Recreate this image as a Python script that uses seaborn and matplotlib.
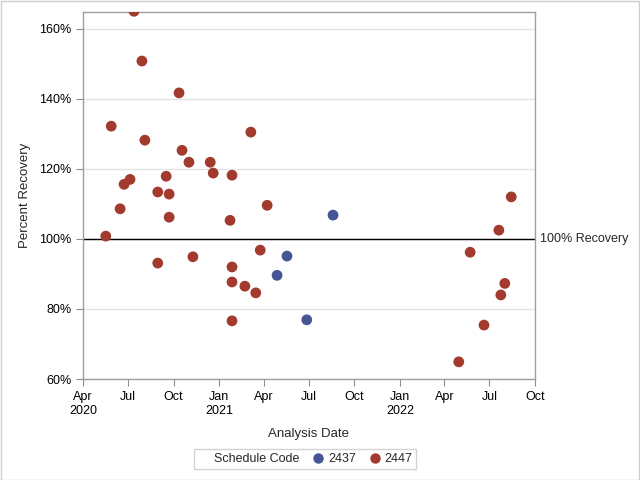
import pandas as pd
import seaborn as sns
import matplotlib.pyplot as plt
import matplotlib.dates as mdates
from matplotlib.lines import Line2D
from matplotlib.patches import Rectangle

# data
dates_2447 = ["2020-05-17", "2020-05-28", "2020-06-15", "2020-06-23", "2020-07-05",
              "2020-07-13", "2020-07-29", "2020-08-04", "2020-08-30", "2020-08-30",
              "2020-09-16", "2020-09-22", "2020-09-22", "2020-10-12", "2020-10-18",
              "2020-11-01", "2020-11-09", "2020-12-14", "2020-12-20", "2021-01-23",
              "2021-01-27", "2021-01-27", "2021-01-27", "2021-01-27", "2021-02-22",
              "2021-03-06", "2021-03-16", "2021-03-25", "2021-04-08", "2022-04-30",
              "2022-05-23", "2022-06-20", "2022-07-20", "2022-07-24", "2022-08-01",
              "2022-08-14"]
recovery_2447 = [100.8, 132.2, 108.6, 115.6, 117.0,
                 165.0, 150.8, 128.2, 113.4, 93.1,
                 117.9, 112.8, 106.2, 141.7, 125.3,
                 121.9, 94.9, 121.9, 118.8, 105.3,
                 118.2, 92.0, 87.7, 76.6, 86.5,
                 130.5, 84.6, 96.8, 109.6, 64.9,
                 96.2, 75.4, 102.5, 84.0, 87.3,
                 112.0]
dates_2437 = ["2021-04-28", "2021-05-18", "2021-06-27", "2021-08-19"]
recovery_2437 = [89.6, 95.1, 76.9, 106.8]

tick_dates = ["2020-04-01", "2020-07-01", "2020-10-01", "2021-01-01", "2021-04-01",
              "2021-07-01", "2021-10-01", "2022-01-01", "2022-04-01", "2022-07-01",
              "2022-10-01"]
tick_labels = ["Apr\n2020", "Jul", "Oct", "Jan\n2021", "Apr", "Jul", "Oct",
               "Jan\n2022", "Apr", "Jul", "Oct"]

df = pd.DataFrame({
    "date": pd.to_datetime(dates_2437 + dates_2447),
    "recovery": recovery_2437 + recovery_2447,
    "code": ["2437"] * len(dates_2437) + ["2447"] * len(dates_2447),
})

sns.set_style("white")
plt.rcParams["font.family"] = ["Liberation Sans", "DejaVu Sans"]
palette = {"2437": "#445694", "2447": "#A23A2E"}

fig = plt.figure(figsize=(6.4, 4.8), dpi=100)
ax = fig.add_axes([83 / 640, 1 - 379 / 480, 452 / 640, 367 / 480])

ax.yaxis.grid(True, color="#e3e3e3", lw=1)
ax.set_axisbelow(True)
ax.axhline(100, color="black", lw=1, zorder=1)

sns.scatterplot(data=df, x="date", y="recovery", hue="code", palette=palette,
                s=60, edgecolor="none", legend=False, ax=ax, zorder=3)

ax.set_xlim(pd.Timestamp("2020-04-01"), pd.Timestamp("2022-10-01"))
ax.set_ylim(60, 164.8)
ax.set_xticks(pd.to_datetime(tick_dates))
ax.set_xticklabels(tick_labels)
ax.set_yticks([60, 80, 100, 120, 140, 160])
ax.set_yticklabels([f"{v}%" for v in [60, 80, 100, 120, 140, 160]])
ax.tick_params(axis="both", labelsize=9, length=5, color="#8c8c8c", bottom=True, left=True,
               colors="black")
for s in ax.spines.values():
    s.set_color("#9a9fa6")
    s.set_linewidth(1)
ax.set_xlabel("Analysis Date", fontsize=9.5, labelpad=8)
ax.set_ylabel("Percent Recovery", fontsize=9.5, labelpad=6)

ax.text(1.012, 100, "100% Recovery", transform=ax.get_yaxis_transform(),
        va="center", ha="left", fontsize=9)

handles = [Line2D([], [], linestyle="none", marker="none"),
           Line2D([], [], linestyle="none", marker="o", markersize=7.5,
                  markerfacecolor=palette["2437"], markeredgecolor="none"),
           Line2D([], [], linestyle="none", marker="o", markersize=7.5,
                  markerfacecolor=palette["2447"], markeredgecolor="none")]
leg = fig.legend(handles, ["Schedule Code", "2437", "2447"], ncol=3,
                 loc="center", bbox_to_anchor=(305 / 640, 1 - 459 / 480),
                 fontsize=9, frameon=True, fancybox=False, handlelength=1,
                 handletextpad=0.3, columnspacing=1.0, borderpad=0.3)
leg.get_frame().set_edgecolor("#c8c8c8")
leg.get_frame().set_linewidth(1)

fig.patches.append(Rectangle((0.001, 0.001), 0.998, 0.997, transform=fig.transFigure,
                             fill=False, edgecolor="#cfcfcf", lw=1))

fig.savefig("out.png", dpi=100)
